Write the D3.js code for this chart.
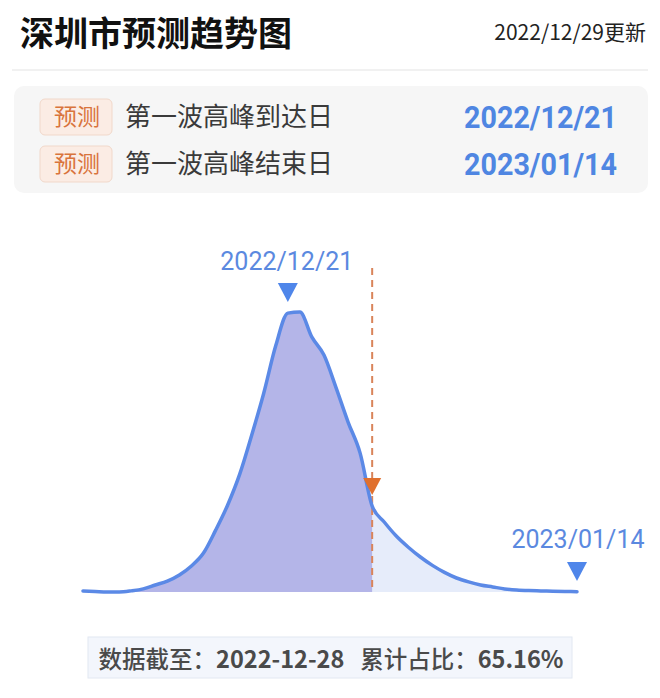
<!DOCTYPE html>
<html><head><meta charset="utf-8">
<script src="https://cdn.jsdelivr.net/npm/d3@7"></script>
<style>html,body{margin:0;padding:0;background:#fff;}svg{display:block;}</style>
</head><body>
<svg id="c" width="660" height="698"></svg>
<script>
const title = "深圳市预测趋势图";
const updated = "2022/12/29更新";
const infoTags = ["预测", "预测"];
const infoLabels = ["第一波高峰到达日", "第一波高峰结束日"];
const infoDates = ["2022/12/21", "2023/01/14"];
const dates = ["2022-12-04","2022-12-05","2022-12-06","2022-12-07","2022-12-08","2022-12-09","2022-12-10",
"2022-12-11","2022-12-12","2022-12-13","2022-12-14","2022-12-15","2022-12-16","2022-12-17","2022-12-18",
"2022-12-19","2022-12-20","2022-12-21","2022-12-22","2022-12-23","2022-12-24","2022-12-25","2022-12-26",
"2022-12-27","2022-12-28","2022-12-29","2022-12-30","2022-12-31","2023-01-01","2023-01-02","2023-01-03",
"2023-01-04","2023-01-05","2023-01-06","2023-01-07","2023-01-08","2023-01-09","2023-01-10","2023-01-11",
"2023-01-12","2023-01-13","2023-01-14"];
const values = [0.4,0.2,0.0,0.0,0.4,1.1,2.5,3.9,6.1,9.3,13.9,22,31,42,56,71,88,99.6,100,91,84.6,73,60.7,49.6,
30.7,25,20,16,12.5,9.5,7,5,3.6,2.5,1.8,1.1,0.7,0.5,0.4,0.3,0.2,0.1];
const peakDate = "2022-12-21";
const endDate = "2023-01-14";
const cutoffDate = "2022-12-28";
const footer = ["数据截至：", "2022-12-28", "累计占比：", "65.16%"];

const svg = d3.select("#c");
const parse = d3.timeParse("%Y-%m-%d");
const data = dates.map((d,i)=>({date: parse(d), v: values[i]}));
const CJK = "'Noto Sans CJK SC','Noto Sans',sans-serif";

// Header
svg.append("text").attr("x",20).attr("y",46).attr("font-family",CJK).attr("font-weight",700)
  .attr("font-size",34).attr("fill","#111").text(title);
svg.append("text").attr("x",646).attr("y",40).attr("text-anchor","end").attr("font-family",CJK)
  .attr("font-size",21).attr("fill","#222").text(updated);
svg.append("line").attr("x1",12).attr("x2",648).attr("y1",70).attr("y2",70).attr("stroke","#ececec").attr("stroke-width",1.5);

// Info box
svg.append("rect").attr("x",14).attr("y",86).attr("width",634).attr("height",107).attr("rx",10)
  .attr("fill","#f6f6f6");
const rowY = [117, 164];
infoLabels.forEach((lab,i)=>{
  const cy = rowY[i];
  svg.append("rect").attr("x",40).attr("y",cy-18).attr("width",72).attr("height",36).attr("rx",5)
    .attr("fill","#fbece4").attr("stroke","#f1d8ca").attr("stroke-width",1);
  svg.append("text").attr("x",77).attr("y",cy+8).attr("text-anchor","middle").attr("font-family",CJK)
    .attr("font-size",23).attr("fill","#d9743c").text(infoTags[i]);
  svg.append("text").attr("x",125).attr("y",cy+9).attr("font-family",CJK)
    .attr("font-size",26).attr("fill","#3a3a3a").text(lab);
  svg.append("text").attr("x",464).attr("y",cy+11).attr("font-family","Roboto,"+CJK)
    .attr("font-weight",700).attr("font-size",31).attr("fill","#4f86e2")
    .attr("textLength",153).attr("lengthAdjust","spacingAndGlyphs").text(infoDates[i]);
});

// Chart
const x = d3.scaleTime().domain([data[0].date, data[data.length-1].date]).range([83,577]);
const y = d3.scaleLinear().domain([0,100]).range([592,312]);
const curve = d3.curveMonotoneX;
const area = d3.area().x(d=>x(d.date)).y0(y(0)).y1(d=>y(d.v)).curve(curve);
const line = d3.line().x(d=>x(d.date)).y(d=>y(d.v)).curve(curve);
const xc = x(parse(cutoffDate));

const defs = svg.append("defs");
defs.append("clipPath").attr("id","cl").append("rect").attr("x",0).attr("y",0).attr("width",xc).attr("height",698);
defs.append("clipPath").attr("id","cr").append("rect").attr("x",xc).attr("y",0).attr("width",660-xc).attr("height",698);

svg.append("path").datum(data).attr("d",area).attr("fill","#e6ecfa").attr("clip-path","url(#cr)");
svg.append("path").datum(data).attr("d",area).attr("fill","#b4b5e8").attr("clip-path","url(#cl)");

// cutoff dashed line
svg.append("line").attr("x1",xc).attr("x2",xc).attr("y1",268).attr("y2",y(0))
  .attr("stroke","#d9845a").attr("stroke-width",2).attr("stroke-dasharray","7,5");

svg.append("path").datum(data).attr("d",line).attr("fill","none").attr("stroke","#5b89e6")
  .attr("stroke-width",3.5).attr("stroke-linecap","round").attr("stroke-linejoin","round");

// cutoff triangle
const cutV = values[dates.indexOf(cutoffDate)];
const ty = y(cutV) - 11;
svg.append("path").attr("d",`M${xc-9},${ty-17}L${xc+9},${ty-17}L${xc},${ty}Z`).attr("fill","#e0702e");

// peak marker
const xp = x(parse(peakDate));
svg.append("text").attr("x",xp-1).attr("y",270).attr("text-anchor","middle").attr("font-family","Roboto,"+CJK)
  .attr("font-size",25).attr("fill","#5b89e0").text(infoDates[0]);
svg.append("path").attr("d",`M${xp-10},283L${xp+10},283L${xp},302Z`).attr("fill","#4f86ea");

// end marker
const xe = x(parse(endDate));
svg.append("text").attr("x",xe+1).attr("y",548).attr("text-anchor","middle").attr("font-family","Roboto,"+CJK)
  .attr("font-size",25).attr("fill","#5b89e0").text(infoDates[1]);
svg.append("path").attr("d",`M${xe-10},562L${xe+10},562L${xe},581Z`).attr("fill","#4f86ea");

// footer
svg.append("rect").attr("x",88).attr("y",637).attr("width",484).attr("height",41)
  .attr("fill","#f3f6fc").attr("stroke","#e2e8f2").attr("stroke-width",1);
const ft = svg.append("text").attr("x",331).attr("y",668).attr("text-anchor","middle").attr("font-family",CJK)
  .attr("font-size",23.5).attr("fill","#4a4a4a").attr("font-weight",500);
ft.append("tspan").text(footer[0]);
ft.append("tspan").attr("font-weight",700).text(footer[1]);
ft.append("tspan").text("\u00a0\u00a0 " + footer[2]);
ft.append("tspan").attr("font-weight",700).text(footer[3]);
</script>
</body></html>
